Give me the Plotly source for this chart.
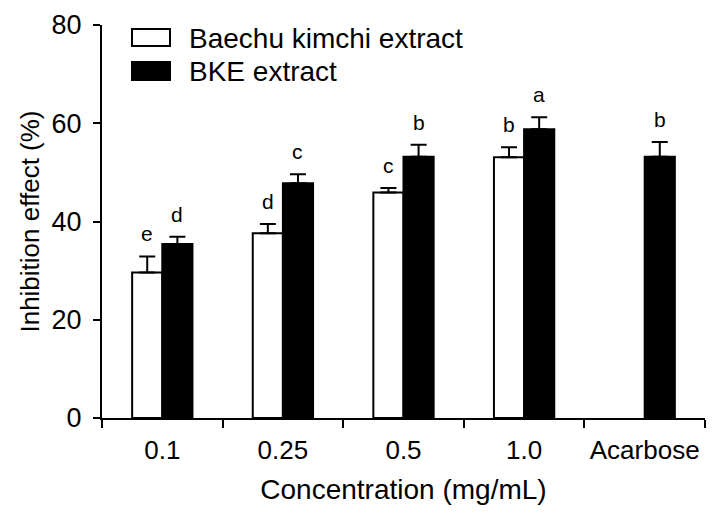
import plotly.graph_objects as go

categories = ["0.1", "0.25", "0.5", "1.0", "Acarbose"]
baechu_mean = [29.6, 37.6, 45.9, 53.1, None]
baechu_err = [3.3, 1.9, 0.9, 2.0, None]
baechu_letters = ["e", "d", "c", "b", None]
bke_mean = [35.4, 47.8, 53.2, 58.8, 53.2]
bke_err = [1.5, 1.8, 2.4, 2.4, 3.0]
bke_letters = ["d", "c", "b", "a", "b"]
series_names = ["Baechu kimchi extract", "BKE extract"]

FONT = "Liberation Sans, Arial, sans-serif"

fig = go.Figure()
fig.add_trace(go.Bar(
    x=categories, y=baechu_mean, name=series_names[0],
    marker=dict(color="white", line=dict(color="black", width=2)),
    error_y=dict(type="data", symmetric=False, array=baechu_err,
                 arrayminus=[0] * len(baechu_err), color="black",
                 thickness=2, width=8),
))
fig.add_trace(go.Bar(
    x=categories, y=bke_mean, name=series_names[1],
    marker=dict(color="black", line=dict(color="black", width=2)),
    error_y=dict(type="data", symmetric=False, array=bke_err,
                 arrayminus=[0] * len(bke_err), color="black",
                 thickness=2, width=8),
))

annotations = []
for i, (m, e, l) in enumerate(zip(baechu_mean, baechu_err, baechu_letters)):
    if m is None:
        continue
    annotations.append(dict(x=i, y=m + e, text=l, xshift=-15, yshift=9,
                            yanchor="bottom", showarrow=False,
                            font=dict(size=21, color="black", family=FONT)))
for i, (m, e, l) in enumerate(zip(bke_mean, bke_err, bke_letters)):
    annotations.append(dict(x=i, y=m + e, text=l, xshift=15, yshift=9,
                            yanchor="bottom", showarrow=False,
                            font=dict(size=21, color="black", family=FONT)))

# manual legend (plot area in page pixels: x 102..705, y 25..418)
def px_x(p):
    return (p - 102) / 603.0

def px_y(p):
    return (418 - p) / 393.0

shapes = [
    dict(type="rect", xref="paper", yref="paper",
         x0=px_x(132), x1=px_x(170), y0=px_y(46), y1=px_y(29),
         fillcolor="white", line=dict(color="black", width=2)),
    dict(type="rect", xref="paper", yref="paper",
         x0=px_x(132), x1=px_x(170), y0=px_y(80), y1=px_y(62),
         fillcolor="black", line=dict(color="black", width=2)),
]
annotations.append(dict(xref="paper", yref="paper", x=px_x(187), y=px_y(39),
                        text=series_names[0], xanchor="left", yanchor="middle",
                        showarrow=False, font=dict(size=28, color="black", family=FONT)))
annotations.append(dict(xref="paper", yref="paper", x=px_x(187), y=px_y(71),
                        text=series_names[1], xanchor="left", yanchor="middle",
                        showarrow=False, font=dict(size=28, color="black", family=FONT)))

# page body has an 8px default margin, so the figure is sized/offset to compensate
fig.update_layout(
    width=711, height=514,
    margin=dict(l=94, r=14, t=17, b=104),
    paper_bgcolor="white", plot_bgcolor="white",
    barmode="group", bargap=0.5, bargroupgap=0,
    showlegend=False,
    font=dict(family=FONT, color="black", size=26),
    annotations=annotations, shapes=shapes,
    xaxis=dict(
        type="category", tickson="boundaries", ticks="outside", ticklen=8,
        tickwidth=2, tickcolor="black", showline=True, linecolor="black",
        linewidth=2, showgrid=False, tickfont=dict(size=26), automargin=False,
        tickangle=0, ticklabelstandoff=8,
        title=dict(text="Concentration (mg/mL)", font=dict(size=28), standoff=15),
        range=[-0.5, 4.5],
    ),
    yaxis=dict(
        range=[0, 80], dtick=20, ticks="outside", ticklen=7, tickwidth=2,
        tickcolor="black", showline=True, linecolor="black", linewidth=2,
        showgrid=False, zeroline=False, tickfont=dict(size=27), automargin=False,
        ticklabelstandoff=6,
        title=dict(text="Inhibition effect (%)", font=dict(size=26), standoff=4),
    ),
)

fig.write_html("out.html")
